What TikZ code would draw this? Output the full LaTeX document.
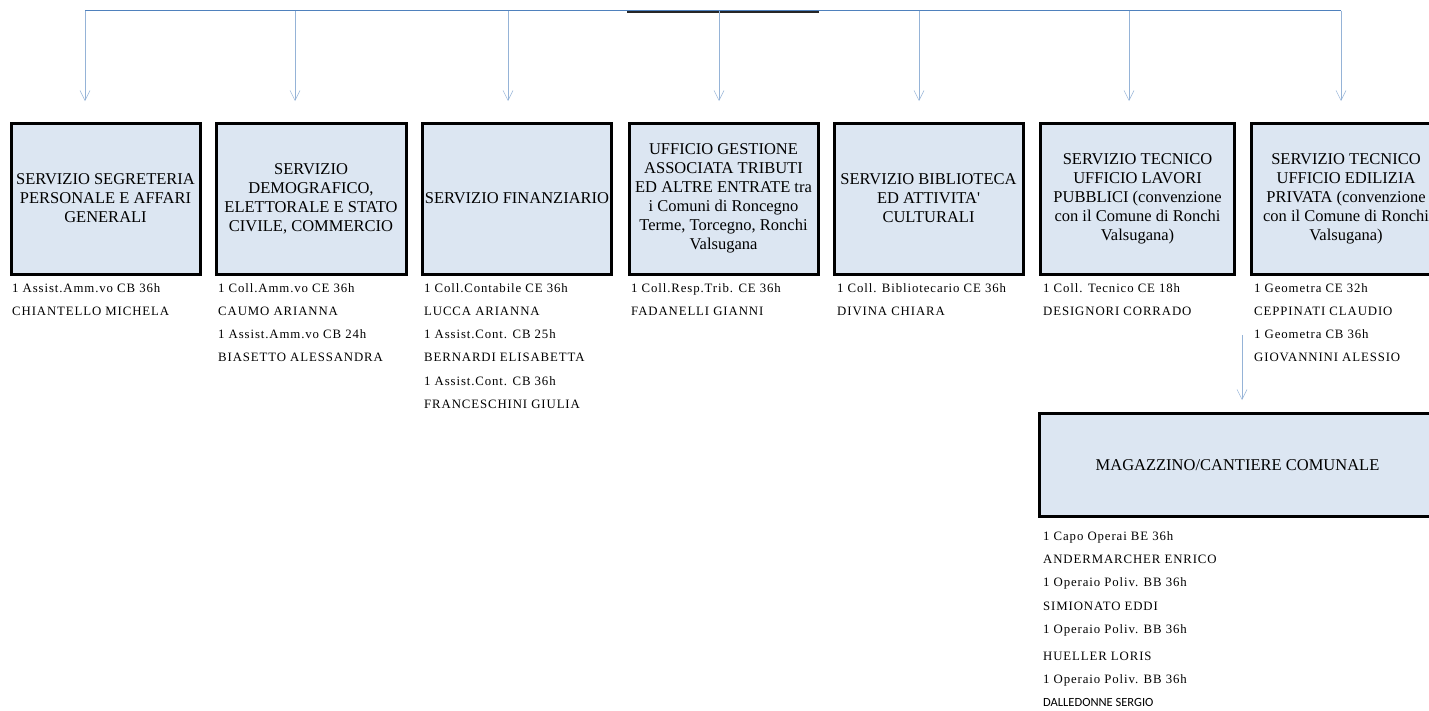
\documentclass[tikz,border=0pt]{standalone}
\usepackage{fontspec}
\setmainfont{Liberation Serif}
\newfontfamily\listfont[LetterSpace=7]{Liberation Serif}
\newfontfamily\calibrifont{Carlito}
\usetikzlibrary{arrows.meta,positioning}
\definecolor{boxfill}{HTML}{DCE6F2}
\definecolor{busblue}{HTML}{4F81BD}
\definecolor{dropblue}{HTML}{95B3D7}

\tikzset{
	ufficio/.style={draw=black,line width=3pt,fill=boxfill,inner sep=0pt,
		minimum width=189pt,minimum height=151pt,align=center,
		font=\fontsize{16.5}{19}\selectfont},
	drop/.style={draw=dropblue,line width=0.9pt,
		-{Straight Barb[length=10pt,width=10pt,line width=0.5pt]}},
	staff/.style={anchor=base west,inner sep=0pt,font=\listfont\fontsize{12.8}{14}\selectfont}
}

\begin{document}
\begin{tikzpicture}[x=1pt,y=-1pt]
		\useasboundingbox (0,0) rectangle (1429,710);
		% bus line on top
		\coordinate (bus) at (0,10.5);
		\draw[line width=1.6pt,black!85] (627,12) -- (819,12);
		\draw[busblue,line width=1pt] (85,10.5) -- (1341,10.5);
		\foreach \x/\n in {85/seg,295/demo,508/fin,719/trib,919/bib,1129/lp,1341/ep}
		\coordinate (in-\n) at (\x,101);
		\foreach \n in {seg,demo,fin,trib,bib,lp,ep}
		\draw[drop] (in-\n |- bus) -- (in-\n);
		% offices
		\node[ufficio] (seg) at (105.5,198.5) {SERVIZIO SEGRETERIA\\PERSONALE E AFFARI\\GENERALI};
		\node[ufficio,minimum width=190pt] (demo) at (311,198.5) {SERVIZIO\\DEMOGRAFICO,\\ELETTORALE E STATO\\CIVILE, COMMERCIO};
		\node[ufficio] (fin) at (517,198.5) {SERVIZIO FINANZIARIO};
		\node[ufficio] (trib) at (723.5,198.5) {UFFICIO GESTIONE\\ASSOCIATA TRIBUTI\\ED ALTRE ENTRATE tra\\i Comuni di Roncegno\\Terme, Torcegno, Ronchi\\Valsugana};
		\node[ufficio] (bib) at (928.5,198.5) {SERVIZIO BIBLIOTECA\\ED ATTIVITA\textquotesingle\\CULTURALI};
		\node[ufficio,minimum width=194pt] (lp) at (1137.5,198.5) {SERVIZIO TECNICO\\UFFICIO LAVORI\\PUBBLICI (convenzione\\con il Comune di Ronchi\\Valsugana)};
		\node[ufficio] (ep) at (1346,198.5) {SERVIZIO TECNICO\\UFFICIO EDILIZIA\\PRIVATA (convenzione\\con il Comune di Ronchi\\Valsugana)};
		% staff
		\foreach [count=\i] \t in {1 Assist.Amm.vo CB 36h,CHIANTELLO MICHELA}
		\node[staff] (seg-\i) at (12,{292+23.3*(\i-1)}) {\t};
		\foreach [count=\i] \t in {1 Coll.Amm.vo CE 36h,CAUMO ARIANNA,1 Assist.Amm.vo CB 24h,BIASETTO ALESSANDRA}
		\node[staff] (demo-\i) at (218,{292+23.3*(\i-1)}) {\t};
		\foreach [count=\i] \t in {1 Coll.Contabile CE 36h,LUCCA ARIANNA,1 Assist.Cont. CB 25h,BERNARDI ELISABETTA,1 Assist.Cont. CB 36h,FRANCESCHINI GIULIA}
		\node[staff] (fin-\i) at (424,{292+23.3*(\i-1)}) {\t};
		\foreach [count=\i] \t in {1 Coll.Resp.Trib. CE 36h,FADANELLI GIANNI}
		\node[staff] (trib-\i) at (631,{292+23.3*(\i-1)}) {\t};
		\foreach [count=\i] \t in {1 Coll. Bibliotecario CE 36h,DIVINA CHIARA}
		\node[staff] (bib-\i) at (837,{292+23.3*(\i-1)}) {\t};
		\foreach [count=\i] \t in {1 Coll. Tecnico CE 18h,DESIGNORI CORRADO}
		\node[staff] (lp-\i) at (1043,{292+23.3*(\i-1)}) {\t};
		\foreach [count=\i] \t in {1 Geometra CE 32h,CEPPINATI CLAUDIO,1 Geometra CB 36h,GIOVANNINI ALESSIO}
		\node[staff] (ep-\i) at (1254,{292+23.3*(\i-1)}) {\t};
		% magazzino
		\coordinate (mag-out) at (1242,335);
		\coordinate (mag-in) at (1242,400);
		\draw[drop] (mag-out) -- (mag-in);
		\node[ufficio,minimum width=396pt,minimum height=103pt] (mag) at (1237.5,465) {MAGAZZINO/CANTIERE COMUNALE};
		\foreach [count=\i] \t/\y in {1 Capo Operai BE 36h/540,ANDERMARCHER ENRICO/563,1 Operaio Poliv. BB 36h/586,SIMIONATO EDDI/610,1 Operaio Poliv. BB 36h/633,HUELLER LORIS/660,1 Operaio Poliv. BB 36h/683}
		\node[staff] (mag-\i) at (1043,\y) {\t};
		\node[staff,font=\calibrifont\fontsize{12.5}{14}\selectfont] (mag-8) at (1043,706) {DALLEDONNE SERGIO};
	\end{tikzpicture}
\end{document}
